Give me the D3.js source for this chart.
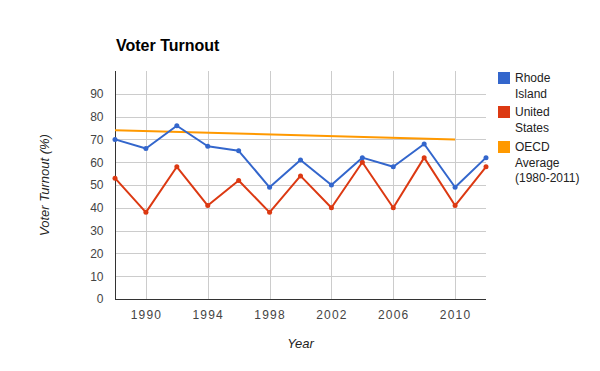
<!DOCTYPE html>
<html>
<head>
<meta charset="utf-8">
<script src="https://cdn.jsdelivr.net/npm/d3@7"></script>
<style>
  body { margin: 0; background: #fff; }
  text { font-family: "Liberation Sans", Arial, sans-serif; }
</style>
</head>
<body>
<script>
// data
const years = [1988, 1990, 1992, 1994, 1996, 1998, 2000, 2002, 2004, 2006, 2008, 2010, 2012];
const rhodeIsland = [70, 66, 76, 67, 65, 49, 61, 50, 62, 58, 68, 49, 62];
const unitedStates = [53, 38, 58, 41, 52, 38, 54, 40, 60, 40, 62, 41, 58];
const oecdYears = [1988, 2010];
const oecdAverage = [74, 70];
const xTicks = [1990, 1994, 1998, 2002, 2006, 2010];
const yTicks = [0, 10, 20, 30, 40, 50, 60, 70, 80, 90];
const legendNames = [["Rhode", "Island"], ["United", "States"], ["OECD", "Average", "(1980-2011)"]];
const colors = ["#3366cc", "#dc3912", "#ff9900"];

const width = 600, height = 371;
const plotLeft = 115, plotRight = 486, plotTop = 71, plotBottom = 299;

const svg = d3.select("body").append("svg")
    .attr("width", width)
    .attr("height", height);

const x = d3.scaleLinear().domain([1988, 2012]).range([plotLeft, plotRight]);
const y = d3.scaleLinear().domain([0, 100]).range([plotBottom, plotTop]);

// gridlines
const grid = svg.append("g").attr("stroke", "#cccccc").attr("stroke-width", 1);
grid.selectAll(".gy").data(yTicks.slice(1))
    .join("line")
    .attr("x1", plotLeft).attr("x2", plotRight)
    .attr("y1", d => Math.round(y(d)) + 0.5).attr("y2", d => Math.round(y(d)) + 0.5);
grid.selectAll(".gx").data(xTicks)
    .join("line")
    .attr("x1", d => Math.round(x(d)) + 0.5).attr("x2", d => Math.round(x(d)) + 0.5)
    .attr("y1", plotTop).attr("y2", plotBottom);

// axes
const xAxis = svg.append("g")
    .attr("transform", `translate(0,${plotBottom + 0.5})`)
    .call(d3.axisBottom(x).tickValues(xTicks).tickSize(0).tickFormat(d3.format("d")).tickPadding(11));
const yAxis = svg.append("g")
    .attr("transform", `translate(${plotLeft + 0.5},0)`)
    .call(d3.axisLeft(y).tickValues(yTicks).tickSize(0).tickPadding(12));

[xAxis, yAxis].forEach(a => {
    a.select(".domain").attr("stroke", "#333").attr("stroke-width", 1);
    a.selectAll("text")
        .attr("font-family", "Liberation Sans, Arial, sans-serif")
        .attr("font-size", 12)
        .attr("fill", "#444");
});
xAxis.selectAll("text").attr("letter-spacing", "1.2px");
yAxis.select(".domain").attr("d", `M0,${plotTop}V${plotBottom}`);
xAxis.select(".domain").attr("d", `M${plotLeft},0H${plotRight}`);

// series lines
const line = d3.line().x(d => x(d[0])).y(d => y(d[1]));

const series = [
    years.map((yr, i) => [yr, rhodeIsland[i]]),
    years.map((yr, i) => [yr, unitedStates[i]]),
    oecdYears.map((yr, i) => [yr, oecdAverage[i]])
];

// draw OECD first so the others sit on top of it
[2, 1, 0].forEach(k => {
    svg.append("path")
        .datum(series[k])
        .attr("fill", "none")
        .attr("stroke", colors[k])
        .attr("stroke-width", 2)
        .attr("stroke-linejoin", "round")
        .attr("d", line);
    if (k < 2) {
        svg.append("g").selectAll("circle")
            .data(series[k])
            .join("circle")
            .attr("cx", d => x(d[0]))
            .attr("cy", d => y(d[1]))
            .attr("r", 2.5)
            .attr("fill", colors[k]);
    }
});

// title
svg.append("text")
    .attr("x", 116).attr("y", 51)
    .attr("font-size", 16).attr("font-weight", "bold")
    .attr("fill", "#000")
    .text("Voter Turnout");

// axis titles
svg.append("text")
    .attr("x", (plotLeft + plotRight) / 2).attr("y", 348)
    .attr("text-anchor", "middle")
    .attr("font-size", 13).attr("font-style", "italic")
    .attr("fill", "#222")
    .text("Year");

svg.append("text")
    .attr("transform", `translate(49,${(plotTop + plotBottom) / 2}) rotate(-90)`)
    .attr("text-anchor", "middle")
    .attr("font-size", 13).attr("font-style", "italic")
    .attr("fill", "#222")
    .text("Voter Turnout (%)");

// legend
const legendTops = [72, 106, 141];
legendNames.forEach((lines, i) => {
    const g = svg.append("g").attr("transform", `translate(498,${legendTops[i]})`);
    g.append("rect")
        .attr("width", 12).attr("height", 12)
        .attr("fill", colors[i]);
    lines.forEach((t, j) => {
        g.append("text")
            .attr("x", 17).attr("y", 10 + j * 15.5)
            .attr("font-size", 12)
            .attr("fill", "#222")
            .text(t);
    });
});
</script>
</body>
</html>
